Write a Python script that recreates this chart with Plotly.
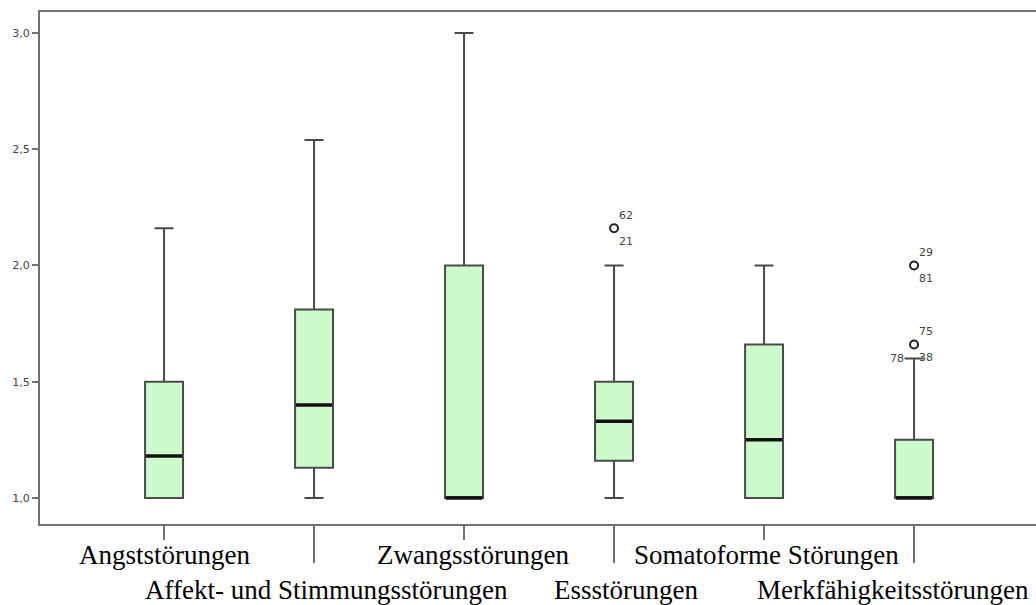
import plotly.graph_objects as go

categories = ["Angststörungen", "Affekt- und Stimmungsstörungen", "Zwangsstörungen",
              "Essstörungen", "Somatoforme Störungen", "Merkfähigkeitsstörungen"]
lower_whisker = [1.0, 1.0, 1.0, 1.0, 1.0, 1.0]
q1 = [1.0, 1.13, 1.0, 1.16, 1.0, 1.0]
medians = [1.18, 1.40, 1.0, 1.33, 1.25, 1.0]
q3 = [1.5, 1.81, 2.0, 1.5, 1.66, 1.25]
upper_whisker = [2.16, 2.54, 3.0, 2.0, 2.0, 1.6]

outlier_group = ["Essstörungen", "Merkfähigkeitsstörungen", "Merkfähigkeitsstörungen"]
outlier_value = [2.16, 2.0, 1.66]
outlier_label_above = ["62", "29", "75"]
outlier_label_below = ["21", "81", "38"]
outlier_label_below_left = ["", "", "78"]

y_ticks = [1.0, 1.5, 2.0, 2.5, 3.0]

# style: horizontal nudges of the category captions (pixels)
label_nudge = [0, 12, 9, 12, 2, -21]

pos = list(range(len(categories)))
out_pos = [categories.index(g) for g in outlier_group]

fig = go.Figure()
fig.add_trace(go.Box(
    x=pos, q1=q1, median=medians, q3=q3,
    lowerfence=lower_whisker, upperfence=upper_whisker,
    width=0.253, whiskerwidth=0.5,
    fillcolor="#ccfacc", line=dict(color="#4a4a4a", width=2),
    boxpoints=False, showlegend=False, hoverinfo="skip",
))
# thick median lines
fig.add_trace(go.Scatter(
    x=pos, y=medians, mode="markers",
    marker=dict(symbol="line-ew", size=26, line=dict(color="#111111", width=3.5)),
    showlegend=False, hoverinfo="skip",
))
# outliers
fig.add_trace(go.Scatter(
    x=out_pos, y=outlier_value, mode="markers",
    marker=dict(symbol="circle-open", size=8, line=dict(color="#222222", width=2), color="#222222"),
    showlegend=False, hoverinfo="skip",
))
lab_font = dict(family="DejaVu Sans", size=11, color="#444444")
for xp, yv, a, b, c in zip(out_pos, outlier_value, outlier_label_above,
                           outlier_label_below, outlier_label_below_left):
    for txt, dx, dy in ((a, 12, 13), (b, 12, -13), (c, -17, -14)):
        if txt:
            fig.add_annotation(x=xp, y=yv, xref="x", yref="y", text=txt, showarrow=False,
                               xanchor="center", yanchor="middle", xshift=dx, yshift=dy,
                               font=lab_font)

# category labels in two alternating rows
for i, name in enumerate(categories):
    fig.add_annotation(
        x=i, y=0, xref="x", yref="paper", text=name, showarrow=False,
        xanchor="center", yanchor="top", xshift=label_nudge[i],
        yshift=-14 if i % 2 == 0 else -49,
        font=dict(family="Liberation Serif", size=27, color="#000000"),
    )

axis_line = "#707070"
fig.update_layout(
    width=1036, height=605,
    margin=dict(l=40, r=0, t=12, b=81),
    paper_bgcolor="white", plot_bgcolor="white",
    separators=",.",
    xaxis=dict(range=[-0.827, 5.813], tickvals=pos[0::2], ticktext=[""] * len(pos[0::2]),
               ticks="outside", ticklen=14, tickwidth=2, tickcolor=axis_line,
               showline=True, linecolor=axis_line, linewidth=2, mirror=True,
               showgrid=False, zeroline=False, automargin=False),
    xaxis2=dict(range=[-0.827, 5.813], overlaying="x", side="bottom", anchor="y",
                tickvals=pos[1::2], ticktext=[""] * len(pos[1::2]),
                ticks="outside", ticklen=38, tickwidth=2, tickcolor=axis_line,
                showline=False, showgrid=False, zeroline=False, automargin=False),
    yaxis=dict(range=[0.888, 3.09], tickvals=y_ticks, tickformat=".1f",
               ticks="outside", ticklen=6, tickwidth=2, tickcolor=axis_line,
               tickfont=dict(family="DejaVu Sans", size=11, color="#444444"),
               showline=True, linecolor=axis_line, linewidth=2, mirror=False,
               showgrid=False, zeroline=False, automargin=False),
)
# invisible trace to activate xaxis2
fig.add_trace(go.Scatter(x=[pos[1]], y=[medians[1]], xaxis="x2", mode="markers",
                         marker=dict(opacity=0), showlegend=False, hoverinfo="skip"))

fig.write_html("out.html", config={"displayModeBar": False},
               post_script="document.body.style.margin='0';")
